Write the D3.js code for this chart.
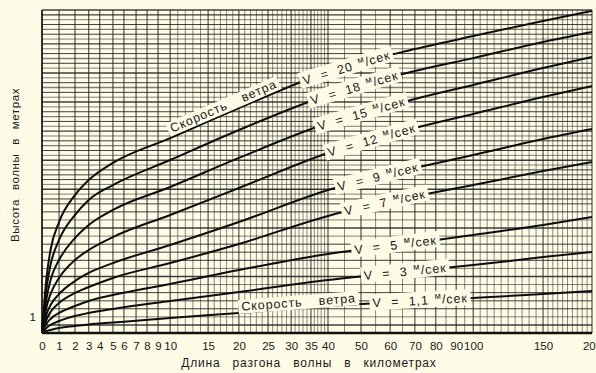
<!DOCTYPE html>
<html>
<head>
<meta charset="utf-8">
<script src="https://cdn.jsdelivr.net/npm/d3@7"></script>
<style>
  body { margin: 0; background: #fefce6; }
  text { font-family: "Liberation Sans", "DejaVu Sans", sans-serif; fill: #1a1a1a; }
</style>
</head>
<body>
<svg class="chart" width="596" height="373"></svg>
<script>
// fetch length, km (points where curves were read)
const fetchKm = [0, 0.25, 0.5, 1, 2, 3, 5, 10, 20, 40, 70, 100, 150, 200];

// wave height for each wind speed, m
const windSpeeds = [20, 18, 15, 12, 9, 7, 5, 3, 1.1];
const h20 = [0, 3.28, 5.14, 6.87, 8.54, 9.47, 10.53, 12.07, 13.93, 16.16, 17.58, 18.39, 19.32, 19.94];
const h18 = [0, 2.66, 4.21, 5.76, 7.31, 8.24, 9.16, 10.71, 12.57, 14.74, 16.22, 17.02, 18.02, 18.64];
const h15 = [0, 2.04, 3.28, 4.52, 5.88, 6.69, 7.62, 9.04, 10.84, 13.00, 14.49, 15.36, 16.41, 17.09];
const h12 = [0, 1.55, 2.41, 3.41, 4.52, 5.14, 5.94, 7.31, 8.98, 11.15, 12.69, 13.56, 14.61, 15.29];
const h9 = [0, 1.11, 1.73, 2.41, 3.22, 3.72, 4.33, 5.45, 6.87, 8.85, 10.22, 11.02, 12.01, 12.63];
const h7 = [0, 0.80, 1.30, 1.86, 2.48, 2.85, 3.41, 4.33, 5.51, 7.25, 8.48, 9.16, 10.03, 10.59];
const h5 = [0, 0.56, 0.87, 1.24, 1.67, 1.98, 2.35, 3.03, 3.90, 4.89, 5.57, 6.07, 6.69, 7.18];
const h3 = [0, 0.31, 0.50, 0.74, 1.05, 1.24, 1.49, 1.98, 2.54, 3.28, 3.84, 4.21, 4.70, 5.02];
const h11 = [0, 0.12, 0.19, 0.31, 0.43, 0.53, 0.65, 0.93, 1.24, 1.67, 1.98, 2.17, 2.41, 2.60];
const heights = [h20, h18, h15, h12, h9, h7, h5, h3, h11];

// axis labels
const xTicks = [0, 1, 2, 3, 4, 5, 6, 7, 8, 9, 10, 15, 20, 25, 30, 35, 40, 50, 60, 70, 80, 90, 100, 150, 200];
const yTicks = [1];

// the printed fetch scale is irregular: share of the plot width at each labelled value
const xScaleShare = [0, 0.031, 0.060, 0.085, 0.105, 0.129, 0.149, 0.171, 0.191, 0.211, 0.233,
  0.302, 0.358, 0.411, 0.453, 0.489, 0.520, 0.580, 0.633, 0.678, 0.716, 0.753, 0.784, 0.911, 1];

const margin = { top: 10, right: 4, bottom: 40, left: 42 };
const width = 596 - margin.left - margin.right;
const height = 373 - margin.top - margin.bottom;
const paper = '#fefce6';

const svg = d3.select('.chart');
const g = svg.append('g').attr('transform', `translate(${margin.left},${margin.top})`);

const x = d3.scaleLinear()
    .domain(xTicks)
    .range(xScaleShare.map(s => s * width));

const y = d3.scaleLinear()
    .domain([0, 20])
    .range([height, 0]);

// grid
const vLines = d3.range(0, 40, 1).concat(d3.range(40, 201, 5));
g.append('g')
    .selectAll('line')
    .data(vLines)
    .join('line')
    .attr('x1', d => x(d)).attr('x2', d => x(d))
    .attr('y1', 0).attr('y2', height)
    .attr('stroke', '#1c1c1c')
    .attr('stroke-opacity', d => (xTicks.includes(d) ? 0.9 : 0.5))
    .attr('stroke-width', 1);

const hLines = d3.range(0.5, 8, 0.5).concat(d3.range(8, 20.01, 0.3));
g.append('g')
    .selectAll('line')
    .data(hLines)
    .join('line')
    .attr('x1', 0).attr('x2', width)
    .attr('y1', d => y(d)).attr('y2', d => y(d))
    .attr('stroke', '#1c1c1c')
    .attr('stroke-opacity', (d, i) => (i % 2 ? 0.55 : 0.85))
    .attr('stroke-width', (d, i) => (i % 3 ? 1 : 1.4));

// frame
g.append('line').attr('x1', 0).attr('x2', 0).attr('y1', 0).attr('y2', height)
    .attr('stroke', '#111').attr('stroke-width', 1.5);
g.append('line').attr('x1', 0).attr('x2', width).attr('y1', height).attr('y2', height)
    .attr('stroke', '#111').attr('stroke-width', 2.5);
g.append('line').attr('x1', 0).attr('x2', width).attr('y1', 0).attr('y2', 0)
    .attr('stroke', '#222').attr('stroke-width', 1.2);

// curves
const line = d3.line()
    .x((d, i) => x(fetchKm[i]))
    .y(d => y(d))
    .curve(d3.curveMonotoneX);

const paths = g.append('g')
    .selectAll('path')
    .data(heights)
    .join('path')
    .attr('d', line)
    .attr('fill', 'none')
    .attr('stroke', '#0d0d0d')
    .attr('stroke-width', 2);

// find the point of a curve at a given x
function pointAt(node, px) {
  let lo = 0;
  let hi = node.getTotalLength();
  for (let k = 0; k < 30; k += 1) {
    const mid = (lo + hi) / 2;
    if (node.getPointAtLength(mid).x < px) lo = mid; else hi = mid;
  }
  return node.getPointAtLength(lo);
}

// labels on the curves (dy: baseline offset from the curve)
const labels = [
  { v: 20, km: 10.5, text: 'Скорость ветра', dy: -4 },
  { v: 20, km: 33, speed: '20', dy: 4 },
  { v: 18, km: 35, speed: '18', dy: 4 },
  { v: 15, km: 37, speed: '15', dy: 4 },
  { v: 12, km: 40, speed: '12', dy: 4 },
  { v: 9, km: 43, speed: '9', dy: 4 },
  { v: 7, km: 45, speed: '7', dy: 4 },
  { v: 5, km: 48, speed: '5', dy: 4 },
  { v: 3, km: 51, speed: '3', dy: 4 },
  { v: 1.1, km: 20.5, text: 'Скорость ветра', dy: -2 },
  { v: 1.1, km: 54, speed: '1,1', dy: 4 }
];

const labelLayer = g.append('g');
labels.forEach((l) => {
  const node = paths.nodes()[windSpeeds.indexOf(l.v)];
  const lab = labelLayer.append('g');
  const t = lab.append('text')
      .attr('font-size', 12.5)
      .attr('y', l.dy)
      .attr('letter-spacing', 0.9)
      .attr('word-spacing', l.text ? 12 : 5);
  if (l.text) {
    t.text(l.text);
  } else {
    t.append('tspan').text(`V = ${l.speed}`);
    t.append('tspan').text('м').attr('font-size', 9).attr('dx', 6).attr('dy', -5);
    t.append('tspan').text('/сек').attr('dy', 5);
  }
  const w = t.node().getComputedTextLength();
  const p0 = pointAt(node, x(l.km));
  const p1 = pointAt(node, x(l.km) + w);
  const angle = Math.atan2(p1.y - p0.y, p1.x - p0.x) * 180 / Math.PI;
  lab.attr('transform', `translate(${p0.x},${p0.y}) rotate(${angle})`);
  const bb = t.node().getBBox();
  lab.insert('rect', 'text')
      .attr('x', bb.x - 3).attr('y', bb.y)
      .attr('width', bb.width + 6).attr('height', bb.height)
      .attr('fill', paper);
});

// axes
const xAxis = g.append('g')
    .attr('transform', `translate(0,${height})`)
    .call(d3.axisBottom(x).tickValues(xTicks).tickSize(0).tickPadding(9));
xAxis.select('.domain').remove();
xAxis.selectAll('text')
    .attr('font-size', 11.5)
    .attr('font-family', '"Liberation Sans", sans-serif')
    .attr('fill', '#1a1a1a');

const yAxis = g.append('g')
    .call(d3.axisLeft(y).tickValues(yTicks).tickSize(0).tickPadding(6));
yAxis.select('.domain').remove();
yAxis.selectAll('text')
    .attr('font-size', 11.5)
    .attr('font-family', '"Liberation Sans", sans-serif')
    .attr('fill', '#1a1a1a');

svg.append('text')
    .attr('x', 309)
    .attr('y', 367)
    .attr('text-anchor', 'middle')
    .attr('font-size', 12)
    .attr('letter-spacing', 0.8)
    .attr('word-spacing', 8)
    .text('Длина разгона волны в километрах');

svg.append('text')
    .attr('transform', 'translate(19,165) rotate(-90)')
    .attr('text-anchor', 'middle')
    .attr('font-size', 11.5)
    .attr('letter-spacing', 0.6)
    .attr('word-spacing', 5)
    .text('Высота волны в метрах');
</script>
</body>
</html>
